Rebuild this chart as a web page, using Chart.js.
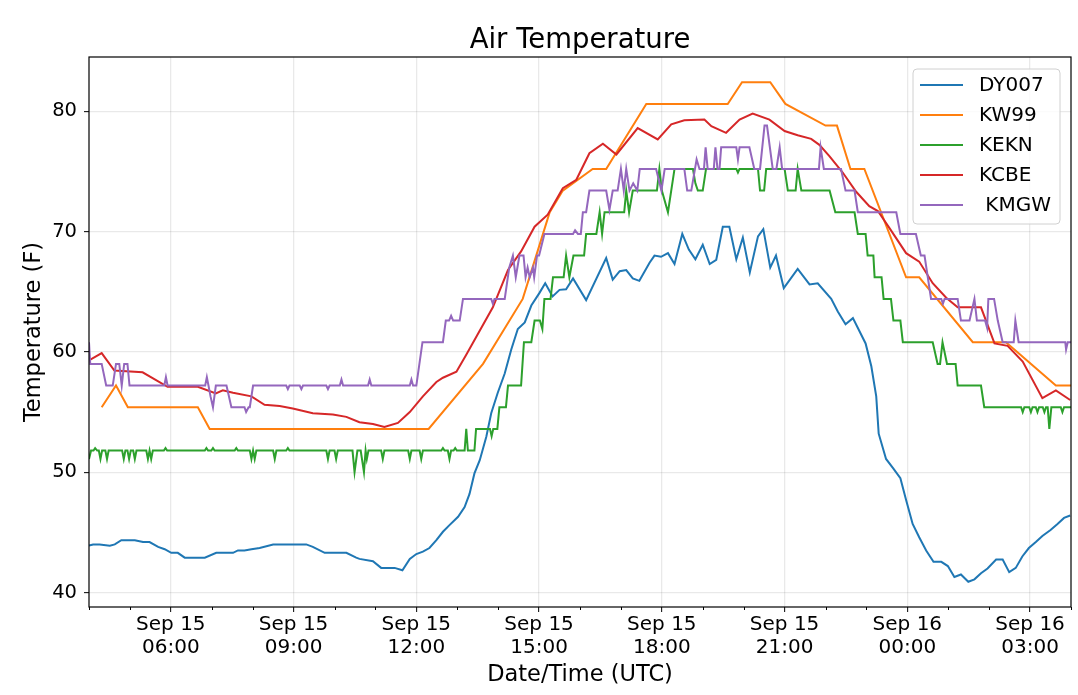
<!DOCTYPE html>
<html>
<head>
<meta charset="utf-8">
<script src="https://cdn.jsdelivr.net/npm/chart.js@4.4.1/dist/chart.umd.min.js"></script>
<style>
  html, body { margin: 0; padding: 0; background: #ffffff; }
  #wrap { width: 1078px; height: 695px; position: relative; }
</style>
</head>
<body>
<div id="wrap"><canvas id="c" width="1078" height="695"></canvas></div>
<script>
// ---------- DATA (hours since Sep 15 00:00 UTC, temperatures in F) ----------
const chartTitle = 'Air Temperature';
const seriesNames = ['DY007', 'KW99', 'KEKN', 'KCBE', ' KMGW'];

const dy007Hours = [4.00,4.10,4.26,4.51,4.63,4.79,5.12,5.32,5.48,5.69,5.85,6.01,6.17,6.34,6.83,7.11,7.52,7.64,7.80,7.97,8.17,8.50,9.31,9.47,9.76,10.29,10.53,10.61,10.94,11.14,11.47,11.66,11.84,12.00,12.16,12.32,12.49,12.65,12.81,13.02,13.18,13.30,13.42,13.55,13.71,13.83,13.99,14.16,14.32,14.48,14.65,14.81,15.01,15.15,15.33,15.50,15.66,15.83,16.15,16.64,16.80,16.97,17.13,17.29,17.45,17.70,17.82,17.98,18.15,18.31,18.50,18.66,18.82,19.00,19.17,19.33,19.49,19.65,19.82,19.98,20.15,20.35,20.48,20.65,20.79,20.98,21.32,21.61,21.81,22.14,22.30,22.49,22.67,22.98,23.12,23.24,23.30,23.48,23.66,23.83,23.97,24.13,24.29,24.46,24.64,24.83,24.99,25.15,25.31,25.49,25.64,25.80,25.96,26.17,26.33,26.49,26.65,26.81,26.97,27.14,27.30,27.50,27.67,27.83,27.98];
const dy007Temps = [43.9,44.0,44.0,43.9,44.0,44.35,44.35,44.2,44.2,43.8,43.6,43.3,43.3,42.9,42.9,43.3,43.3,43.5,43.5,43.6,43.7,44.0,44.0,43.8,43.3,43.3,42.9,42.8,42.6,42.05,42.05,41.85,42.8,43.2,43.4,43.7,44.35,45.05,45.6,46.3,47.1,48.2,49.9,51.0,52.95,54.9,56.6,58.2,60.2,61.9,62.45,63.85,64.9,65.7,64.6,65.15,65.2,66.1,64.3,67.8,66.0,66.7,66.8,66.1,65.9,67.4,68.0,67.9,68.2,67.3,69.8,68.5,67.7,68.9,67.3,67.65,70.4,70.4,67.7,69.5,66.6,69.6,70.2,67.0,68.0,65.3,66.9,65.6,65.7,64.4,63.35,62.3,62.8,60.7,58.8,56.3,53.2,51.1,50.3,49.5,47.7,45.7,44.6,43.5,42.55,42.55,42.2,41.3,41.5,40.9,41.1,41.6,42.0,42.75,42.75,41.7,42.05,43.0,43.7,44.2,44.7,45.2,45.7,46.2,46.4];

const kw99Hours = [4.31,4.66,4.95,6.66,6.95,12.30,13.63,14.60,14.93,15.26,15.58,16.31,16.64,17.62,19.61,19.96,20.65,21.02,22.00,22.28,22.61,22.95,23.97,24.29,25.60,26.41,27.63,28.00];
const kw99Temps = [55.4,57.2,55.4,55.4,53.6,53.6,59.0,64.4,68.0,71.6,73.4,75.2,75.2,80.6,80.6,82.4,82.4,80.6,78.8,78.8,75.2,75.2,66.2,66.2,60.8,60.8,57.2,57.2];

const keknHours = [4.00,4.05,4.11,4.15,4.20,4.24,4.28,4.32,4.40,4.44,4.48,4.81,4.85,4.89,4.94,4.98,5.02,5.08,5.12,5.16,5.40,5.44,5.48,5.52,5.56,5.83,5.87,5.91,6.83,6.87,6.91,6.99,7.03,7.07,7.56,7.60,7.64,7.93,7.97,8.01,8.05,8.09,8.50,8.54,8.58,8.82,8.86,8.90,9.80,9.84,9.88,10.00,10.04,10.08,10.44,10.49,10.56,10.64,10.72,10.76,10.79,10.83,11.14,11.18,11.22,11.80,11.84,11.88,12.08,12.12,12.16,12.61,12.65,12.69,12.77,12.81,12.85,12.91,12.95,12.99,13.18,13.22,13.26,13.42,13.46,13.80,13.84,13.88,13.98,14.03,14.19,14.24,14.56,14.63,14.81,14.89,15.02,15.08,15.13,15.28,15.34,15.60,15.66,15.74,15.84,16.10,16.15,16.40,16.48,16.54,16.60,17.08,17.13,17.20,17.29,17.88,17.94,18.00,18.15,18.31,18.76,18.82,18.88,19.00,19.08,19.82,19.86,19.90,20.35,20.40,20.50,20.55,21.00,21.08,21.27,21.32,21.41,22.10,22.24,22.71,22.79,22.98,23.03,23.17,23.20,23.37,23.42,23.60,23.66,23.83,23.89,24.62,24.74,24.80,24.86,24.97,25.18,25.23,25.80,25.88,26.78,26.82,26.86,26.98,27.02,27.06,27.14,27.18,27.22,27.31,27.35,27.39,27.43,27.47,27.52,27.75,27.79,27.83,28.00];
const keknTemps = [51.1,51.8,51.8,52.0,51.8,51.8,51.1,51.8,51.8,51.1,51.8,51.8,51.1,51.8,51.8,51.1,51.8,51.8,51.1,51.8,51.8,51.1,51.8,51.1,51.8,51.8,52.0,51.8,51.8,52.0,51.8,51.8,52.0,51.8,51.8,52.0,51.8,51.8,51.1,51.8,51.1,51.8,51.8,51.1,51.8,51.8,52.0,51.8,51.8,51.1,51.8,51.8,51.1,51.8,51.8,50.0,51.8,51.8,50.0,51.8,51.1,51.8,51.8,51.1,51.8,51.8,51.1,51.8,51.8,51.1,51.8,51.8,52.0,51.8,51.8,51.1,51.8,51.8,52.0,51.8,51.8,53.6,51.8,51.8,53.6,53.6,53.0,53.6,53.6,55.4,55.4,57.2,57.2,60.8,60.8,62.6,62.6,61.9,64.4,64.4,66.2,66.2,68.0,66.2,68.0,68.0,69.8,69.8,71.6,69.8,71.6,71.6,73.4,71.6,73.4,73.4,75.2,73.4,71.6,75.2,75.2,74.0,73.4,73.4,75.2,75.2,74.9,75.2,75.2,73.4,73.4,75.2,75.2,73.4,73.4,75.2,73.4,73.4,71.6,71.6,69.8,69.8,68.0,68.0,66.2,66.2,64.4,64.4,62.6,62.6,60.8,60.8,59.0,59.0,60.8,59.0,59.0,57.2,57.2,55.4,55.4,55.0,55.4,55.4,55.0,55.4,55.4,55.0,55.4,55.4,55.0,55.4,55.4,53.6,55.4,55.4,55.0,55.4,55.4];

const kcbeHours = [4.00,4.31,4.62,5.31,5.92,6.66,7.10,7.27,7.52,7.97,8.29,8.66,8.98,9.47,9.96,10.29,10.61,10.94,11.22,11.55,11.84,12.16,12.49,12.65,12.98,13.22,13.87,14.24,14.56,14.89,15.21,15.58,15.91,16.23,16.56,16.89,17.41,17.90,18.23,18.55,19.04,19.21,19.57,19.90,20.22,20.63,21.00,21.32,21.65,21.85,22.10,22.42,22.75,23.07,23.28,23.56,23.97,24.29,24.62,24.95,25.23,25.80,26.13,26.45,26.82,27.30,27.63,27.98];
const kcbeTemps = [59.3,59.9,58.45,58.3,57.1,57.1,56.55,56.8,56.6,56.3,55.6,55.5,55.3,54.9,54.8,54.6,54.15,54.0,53.75,54.1,55.0,56.3,57.5,57.85,58.35,59.75,63.7,66.8,68.35,70.4,71.4,73.6,74.3,76.5,77.3,76.4,78.6,77.65,78.9,79.25,79.3,78.75,78.2,79.3,79.8,79.3,78.35,78.0,77.7,77.2,76.25,74.9,73.3,72.1,71.7,70.3,68.2,67.5,65.7,64.5,63.7,63.7,60.7,60.5,59.2,56.15,56.8,56.0];

const kmgwHours = [4.00,4.03,4.31,4.42,4.58,4.66,4.74,4.80,4.86,4.94,4.99,5.84,5.88,5.92,6.84,6.88,6.92,6.97,7.03,7.10,7.36,7.48,7.80,7.84,7.90,7.93,8.01,8.82,8.86,8.90,9.15,9.19,9.23,9.80,9.84,9.88,10.13,10.17,10.21,10.82,10.86,10.90,11.84,11.88,11.92,12.00,12.15,12.65,12.72,12.80,12.85,12.90,13.06,13.14,13.83,13.87,13.91,14.16,14.27,14.36,14.43,14.52,14.62,14.67,14.72,14.77,14.85,14.88,14.95,15.00,15.13,15.83,15.88,15.95,16.02,16.07,16.15,16.23,16.64,16.72,16.80,16.92,17.00,17.07,17.13,17.21,17.30,17.40,17.46,17.86,17.99,18.07,18.55,18.62,18.72,18.85,18.92,19.03,19.07,19.12,19.27,19.31,19.36,19.41,19.45,19.82,19.86,19.90,20.14,20.26,20.40,20.51,20.57,20.71,20.80,20.88,20.94,21.84,21.88,21.96,22.38,22.49,22.71,22.79,23.73,23.83,24.21,24.33,24.42,24.58,24.83,24.87,24.91,25.23,25.31,25.52,25.64,25.70,25.90,25.95,25.98,26.12,26.21,26.33,26.60,26.64,26.72,27.86,27.88,27.92,28.00];
const kmgwTemps = [60.8,59.0,59.0,57.2,57.2,59.0,59.0,57.2,59.0,59.0,57.2,57.2,57.9,57.2,57.2,57.9,57.2,56.3,55.4,57.2,57.2,55.4,55.4,55.0,55.4,55.4,57.2,57.2,56.9,57.2,57.2,56.9,57.2,57.2,56.9,57.2,57.2,57.7,57.2,57.2,57.7,57.2,57.2,57.7,57.2,57.2,60.8,60.8,62.6,62.6,63.0,62.6,62.6,64.4,64.4,64.0,64.4,64.4,67.0,68.0,66.2,68.0,68.0,66.2,67.0,66.2,67.0,66.2,68.0,68.0,69.8,69.8,70.1,69.8,69.8,71.6,71.6,73.4,73.4,71.8,73.4,73.4,75.2,73.4,75.2,73.4,74.0,73.4,75.2,75.2,73.4,75.2,75.2,73.4,73.4,76.0,75.2,75.2,77.0,75.2,75.2,77.0,75.2,75.2,77.0,77.0,76.0,77.0,77.0,75.2,75.2,78.8,78.8,75.2,75.2,77.0,75.2,75.2,77.0,75.2,75.2,73.4,73.4,71.6,71.6,69.8,69.8,68.0,68.0,64.4,64.4,64.0,64.4,64.4,62.6,62.6,64.4,62.6,62.6,62.0,64.4,64.4,62.6,60.8,60.8,62.6,60.8,60.8,60.2,60.8,60.8];

const xTickHours = [6, 9, 12, 15, 18, 21, 24, 27];
const xTickLabels = [['Sep 15','06:00'],['Sep 15','09:00'],['Sep 15','12:00'],['Sep 15','15:00'],['Sep 15','18:00'],['Sep 15','21:00'],['Sep 16','00:00'],['Sep 16','03:00']];
const yTickValues = [40, 50, 60, 70, 80];

// ---------- CHART ----------
const FONT = 'DejaVu Sans';
const colors = ['#1f77b4', '#ff7f0e', '#2ca02c', '#d62728', '#9467bd'];
const hourSets = [dy007Hours, kw99Hours, keknHours, kcbeHours, kmgwHours];
const tempSets = [dy007Temps, kw99Temps, keknTemps, kcbeTemps, kmgwTemps];

const datasets = seriesNames.map((name, i) => ({
  label: name,
  data: hourSets[i].map((h, j) => ({ x: h, y: tempSets[i][j] })),
  borderColor: colors[i],
  backgroundColor: colors[i],
  borderWidth: 2,
  pointRadius: 0,
  tension: 0,
  fill: false,
  order: seriesNames.length - 1 - i
}));

const isMajor = v => Math.abs(v - Math.round(v)) < 1e-6 && xTickHours.indexOf(Math.round(v)) >= 0;
const GRID = 'rgba(0,0,0,0.085)';

const framePlugin = {
  id: 'frameAndLegend',
  afterDatasetsDraw(chart) {
    const { ctx, chartArea: a, scales } = chart;
    ctx.save();
    // minor ticks on x axis
    ctx.strokeStyle = '#000';
    ctx.lineWidth = 1;
    for (let h = Math.ceil(scales.x.min); h <= scales.x.max; h++) {
      if (isMajor(h)) continue;
      const px = Math.round(scales.x.getPixelForValue(h)) + 0.5;
      ctx.beginPath();
      ctx.moveTo(px, a.bottom);
      ctx.lineTo(px, a.bottom + 3);
      ctx.stroke();
    }
    // frame
    ctx.strokeStyle = '#000';
    ctx.lineWidth = 1.2;
    ctx.strokeRect(a.left, a.top, a.right - a.left, a.bottom - a.top);
    ctx.restore();
  },
  afterDraw(chart) {
    const { ctx, chartArea: a } = chart;
    ctx.save();
    // title, centred over the plot area
    ctx.fillStyle = '#000';
    ctx.font = '27.5px "' + FONT + '"';
    ctx.textAlign = 'center';
    ctx.textBaseline = 'alphabetic';
    ctx.fillText(chartTitle, (a.left + a.right) / 2, 48.3);

    // legend
    const bx = a.right - 158, by = a.top + 12, bw = 147, bh = 155, r = 4;
    ctx.beginPath();
    ctx.moveTo(bx + r, by);
    ctx.lineTo(bx + bw - r, by);
    ctx.quadraticCurveTo(bx + bw, by, bx + bw, by + r);
    ctx.lineTo(bx + bw, by + bh - r);
    ctx.quadraticCurveTo(bx + bw, by + bh, bx + bw - r, by + bh);
    ctx.lineTo(bx + r, by + bh);
    ctx.quadraticCurveTo(bx, by + bh, bx, by + bh - r);
    ctx.lineTo(bx, by + r);
    ctx.quadraticCurveTo(bx, by, bx + r, by);
    ctx.closePath();
    ctx.fillStyle = 'rgba(255,255,255,0.8)';
    ctx.fill();
    ctx.strokeStyle = '#d0d0d0';
    ctx.lineWidth = 1;
    ctx.stroke();
    chart.data.datasets.forEach((ds, i) => {
      const y = by + 16 + i * 30;
      ctx.strokeStyle = ds.borderColor;
      ctx.lineWidth = 2;
      ctx.beginPath();
      ctx.moveTo(bx + 7, y);
      ctx.lineTo(bx + 50, y);
      ctx.stroke();
      ctx.fillStyle = '#000';
      ctx.font = '20px "' + FONT + '"';
      ctx.textAlign = 'left';
      ctx.textBaseline = 'middle';
      ctx.fillText(ds.label, bx + 66, y + 1);
    });
    ctx.restore();
  }
};

new Chart(document.getElementById('c'), {
  type: 'line',
  data: { datasets },
  options: {
    responsive: false,
    animation: false,
    devicePixelRatio: 1,
    layout: { padding: { left: 0, right: 7, top: 57, bottom: 0 } },
    plugins: {
      legend: { display: false },
      tooltip: { enabled: false },
      title: { display: false }
    },
    scales: {
      x: {
        type: 'linear',
        position: 'bottom',
        min: 4,
        max: 28,
        afterFit(scale) { scale.height = 88; },
        ticks: {
          stepSize: 1,
          includeBounds: false,
          autoSkip: false,
          maxRotation: 0,
          minRotation: 0,
          padding: 1,
          color: '#000',
          font: { family: FONT, size: 20, lineHeight: 1.17 },
          callback: (v) => {
            const k = xTickHours.indexOf(v);
            return k >= 0 ? xTickLabels[k] : '';
          }
        },
        grid: {
          display: true,
          drawOnChartArea: true,
          drawTicks: true,
          tickLength: 5,
          lineWidth: 1.3,
          color: (c) => (c.tick && isMajor(c.tick.value)) ? GRID : 'rgba(0,0,0,0)',
          tickColor: (c) => (c.tick && isMajor(c.tick.value)) ? '#000' : 'rgba(0,0,0,0)',
          tickWidth: 1
        },
        border: { display: false },
        title: {
          display: true,
          text: 'Date/Time (UTC)',
          color: '#000',
          font: { family: FONT, size: 22.5, lineHeight: 1.2 },
          padding: { top: 0, bottom: 6 }
        }
      },
      y: {
        type: 'linear',
        position: 'left',
        min: 38.8,
        max: 84.5,
        afterFit(scale) { scale.width = 89; },
        afterBuildTicks(scale) { scale.ticks = yTickValues.map(v => ({ value: v })); },
        ticks: {
          padding: 7,
          color: '#000',
          font: { family: FONT, size: 19.5 },
          callback: (v) => String(v)
        },
        grid: {
          display: true,
          tickLength: 5,
          lineWidth: 1.3,
          color: GRID,
          tickColor: '#000',
          tickWidth: 1
        },
        border: { display: false },
        title: {
          display: true,
          text: 'Temperature (F)',
          color: '#000',
          font: { family: FONT, size: 22.5, lineHeight: 1.2 },
          padding: { top: 21, bottom: 0 }
        }
      }
    }
  },
  plugins: [framePlugin]
});
</script>
</body>
</html>
